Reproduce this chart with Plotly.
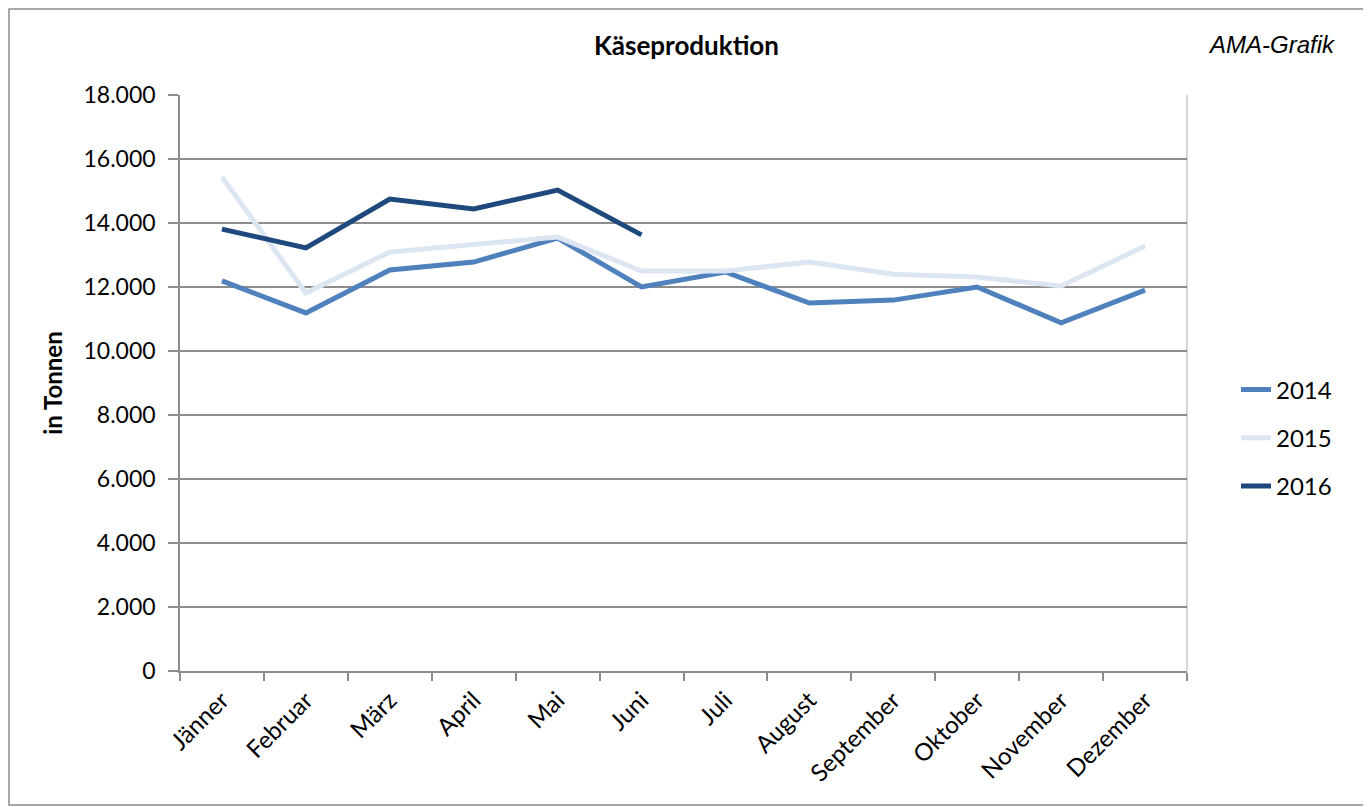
import plotly.graph_objects as go

months = ["Jänner", "Februar", "März", "April", "Mai", "Juni", "Juli",
          "August", "September", "Oktober", "November", "Dezember"]
y2014 = [12190, 11190, 12530, 12780, 13530, 12000, 12470, 11500, 11590, 12000, 10880, 11900]
y2015 = [15440, 11810, 13090, 13310, 13560, 12500, 12500, 12780, 12400, 12310, 12030, 13280]
y2016 = [13810, 13220, 14750, 14440, 15030, 13630]
series = [("2014", y2014, "#4F81BD"), ("2015", y2015, "#DCE6F2"), ("2016", y2016, "#1F497D")]

FONT = "Lato, 'Open Sans', sans-serif"
OFF = 8  # page body margin
W, H = 1371 - OFF, 807 - OFF
L, R, T, B = 180 - OFF, 1187 - OFF, 95 - OFF, 671 - OFF

fig = go.Figure()
for name, vals, col in series:
    fig.add_trace(go.Scatter(
        x=list(range(len(vals))), y=vals, name=name, mode="lines",
        line=dict(color=col, width=5), legendgroup=name))

def px_x(p):
    return (p - OFF - L) / (R - L)

def px_y(p):
    return (B - (p - OFF)) / (B - T)

fig.update_layout(
    width=W, height=H,
    margin=dict(l=L, r=W - R, t=T, b=H - B),
    paper_bgcolor="white", plot_bgcolor="white",
    separators=",.",
    font=dict(family=FONT, size=23, color="black"),
    showlegend=True,
    legend=dict(x=px_x(1236), y=px_y(438), xanchor="left", yanchor="middle",
                font=dict(size=24, family=FONT), tracegroupgap=14, bgcolor="rgba(0,0,0,0)"),
    xaxis=dict(range=[-0.5, 11.5], tickmode="array", tickvals=list(range(12)), ticktext=months,
               tickangle=-45, ticks="", showgrid=False, zeroline=False,
               showline=True, linecolor="#8c8c8c", linewidth=1.5,
               ticklabelstandoff=4,
               minor=dict(tick0=-0.5, dtick=1, ticks="outside", ticklen=8, tickcolor="#8c8c8c",
                          tickwidth=1.5, showgrid=False),
               tickfont=dict(size=24, family=FONT)),
    yaxis=dict(range=[0, 18000], dtick=2000, tickformat=",d", showgrid=True,
               gridcolor="#8c8c8c", gridwidth=1.5, zeroline=False,
               showline=True, linecolor="#8c8c8c", linewidth=1.5,
               ticks="outside", ticklen=10, tickcolor="#8c8c8c", tickwidth=1.5,
               ticklabelstandoff=8,
               tickfont=dict(size=23, family=FONT),
               title=dict(text="<b>in Tonnen</b>", font=dict(size=24, family=FONT), standoff=14)),
    annotations=[
        dict(text="<b>Käseproduktion</b>", xref="paper", yref="paper",
             x=px_x(686), y=px_y(45), xanchor="center", yanchor="middle",
             showarrow=False, font=dict(size=26, family=FONT)),
        dict(text="<i>AMA-Grafik</i>", xref="paper", yref="paper",
             x=px_x(1338), y=px_y(45), xanchor="right", yanchor="middle",
             showarrow=False, font=dict(size=24, family="Liberation Sans, Arial, sans-serif")),
    ],
    shapes=[
        dict(type="rect", xref="paper", yref="paper",
             x0=px_x(9), x1=px_x(1364), y0=px_y(9), y1=px_y(805),
             line=dict(color="#8c8c8c", width=1.5), fillcolor="rgba(0,0,0,0)", layer="below"),
        dict(type="line", xref="paper", yref="paper", x0=1, x1=1, y0=0, y1=1,
             line=dict(color="#c8c8c8", width=1.5), layer="below"),
    ],
)

fig.write_html("out.html")
